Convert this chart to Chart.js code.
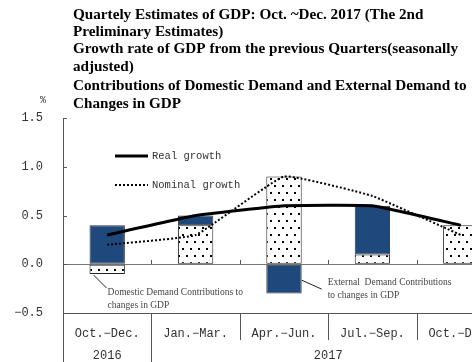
<!DOCTYPE html>
<html>
<head>
<meta charset="utf-8">
<script src="https://cdn.jsdelivr.net/npm/chart.js@4/dist/chart.umd.min.js"></script>
<style>
  html, body { margin: 0; padding: 0; background: #fff; overflow: hidden; }
  #wrap { width: 472px; height: 362px; overflow: hidden; position: relative; }
  canvas { display: block; }
</style>
</head>
<body>
<div id="wrap"><canvas id="c" width="520" height="362" style="width:520px;height:362px"></canvas></div>
<script>
// Quarters shown on the horizontal axis
const quarters = ['Oct.\u2212Dec.', 'Jan.\u2212Mar.', 'Apr.\u2212Jun.', 'Jul.\u2212Sep.', 'Oct.\u2212Dec.'];
// Calendar year groups: label, first quarter index, last quarter index
const yearLabels = ['2016', '2017'];
const yearFirst = [0, 1];
const yearLast = [0, 4];

// Contributions to quarter-on-quarter change (percentage points)
const domesticDemand = [-0.1, 0.4, 0.9, 0.1, 0.4];
const externalDemand = [0.4, 0.1, -0.3, 0.5, 0.0];

// Growth rates (%)
const realGrowth = [0.3, 0.5, 0.6, 0.6, 0.4];
const nominalGrowth = [0.2, 0.3, 0.9, 0.7, 0.3];

// Value axis range
const yMin = -0.5, yMax = 1.5, yStep = 0.5;

const titleLines = [
  'Quartely Estimates of GDP: Oct. ~Dec. 2017 (The 2nd',
  'Preliminary Estimates)',
  'Growth rate of GDP from the previous Quarters(seasonally',
  'adjusted)',
  'Contributions of Domestic Demand and External Demand to',
  'Changes in GDP'
];
const domesticNote = ['Domestic Demand Contributions to', 'changes in GDP'];
const externalNote = ['External  Demand Contributions', 'to changes in GDP'];

const MONO = '"Liberation Mono", "DejaVu Sans Mono", monospace';
const SERIF = '"Liberation Serif", "DejaVu Serif", serif';
const BLUE = '#1f497d';

// Dotted fill used for the domestic demand bars
function dotPattern() {
  const t = document.createElement('canvas');
  t.width = 16; t.height = 14;
  const g = t.getContext('2d');
  g.fillStyle = '#fff';
  g.fillRect(0, 0, 16, 14);
  g.fillStyle = '#000';
  [[2, 3], [10, 3], [6, 10], [14, 10]].forEach(([x, y]) => g.fillRect(x, y, 2, 2));
  return g.createPattern(t, 'repeat');
}

const decorations = {
  id: 'decorations',
  afterDraw(chart) {
    const ctx = chart.ctx;
    const xs = chart.scales.x, ys = chart.scales.y;
    const area = chart.chartArea;
    const H = chart.height;
    ctx.save();

    // Title block
    ctx.fillStyle = '#000';
    ctx.font = 'bold 15.2px ' + SERIF;
    ctx.textAlign = 'left';
    ctx.textBaseline = 'middle';
    const titleY = [15, 32, 49, 67, 86, 104];
    titleLines.forEach((t, i) => ctx.fillText(t, 73, titleY[i]));

    // Unit mark
    ctx.fillStyle = '#333';
    ctx.font = '10px ' + MONO;
    ctx.textAlign = 'center';
    ctx.fillText('%', 43, 100);

    // Axis line continues through the label table
    ctx.strokeStyle = '#555';
    ctx.lineWidth = 1;
    ctx.beginPath();
    ctx.moveTo(area.left + 0.5, area.bottom);
    ctx.lineTo(area.left + 0.5, H);
    ctx.stroke();

    // Inward tick marks on the value axis
    ys.ticks.forEach(t => {
      const y = Math.round(ys.getPixelForValue(t.value)) + 0.5;
      ctx.beginPath();
      ctx.moveTo(area.left, y);
      ctx.lineTo(area.left + 4, y);
      ctx.stroke();
    });

    // Category boundaries
    const n = quarters.length;
    const bounds = [];
    for (let i = 0; i < n - 1; i++) {
      bounds.push((xs.getPixelForValue(i) + xs.getPixelForValue(i + 1)) / 2);
    }
    const zeroY = Math.round(ys.getPixelForValue(0));
    bounds.forEach((bx, i) => {
      const x = Math.round(bx) + 0.5;
      // small tick above the zero line
      ctx.beginPath();
      ctx.moveTo(x, zeroY);
      ctx.lineTo(x, zeroY - 4);
      ctx.stroke();
      // separator in the label table; longer where the year changes
      const yearBreak = yearFirst.includes(i + 1);
      ctx.beginPath();
      ctx.moveTo(x, area.bottom);
      ctx.lineTo(x, yearBreak ? H : area.bottom + 27);
      ctx.stroke();
    });

    // Year labels
    ctx.fillStyle = '#333';
    ctx.font = '12px ' + MONO;
    ctx.textAlign = 'center';
    yearLabels.forEach((lab, i) => {
      const cx = (xs.getPixelForValue(yearFirst[i]) + xs.getPixelForValue(yearLast[i])) / 2;
      ctx.fillText(lab, cx, area.bottom + 43);
    });

    // Legend
    const lx0 = 115, lx1 = 148, ltx = 152;
    ctx.strokeStyle = '#000';
    ctx.lineWidth = 3;
    ctx.setLineDash([]);
    ctx.beginPath(); ctx.moveTo(lx0, 156); ctx.lineTo(lx1, 156); ctx.stroke();
    ctx.lineWidth = 2;
    ctx.setLineDash([2, 2]);
    ctx.beginPath(); ctx.moveTo(lx0, 185); ctx.lineTo(lx1, 185); ctx.stroke();
    ctx.setLineDash([]);
    ctx.fillStyle = '#333';
    ctx.font = '10.5px ' + MONO;
    ctx.textAlign = 'left';
    ctx.fillText(chart.data.datasets[0].label, ltx, 156);
    ctx.fillText(chart.data.datasets[1].label, ltx, 185);

    // Notes with leader lines
    ctx.strokeStyle = '#222';
    ctx.lineWidth = 1;
    ctx.font = '9.5px ' + SERIF;
    ctx.fillStyle = '#444';
    const dBar = chart.getDatasetMeta(2).data[0];
    const dLeft = dBar.x - dBar.width / 2;
    const dBottom = Math.max(dBar.y, dBar.base);
    ctx.beginPath();
    ctx.moveTo(dLeft + 4, dBottom + 1);
    ctx.lineTo(dLeft + 17, dBottom + 14);
    ctx.stroke();
    domesticNote.forEach((t, i) => ctx.fillText(t, dLeft + 18, dBottom + 18 + i * 13));

    const eBar = chart.getDatasetMeta(3).data[2];
    const eRight = eBar.x + eBar.width / 2;
    const eMid = (eBar.y + eBar.base) / 2;
    ctx.beginPath();
    ctx.moveTo(eRight, eMid + 1);
    ctx.lineTo(eRight + 20, eMid + 10);
    ctx.stroke();
    externalNote.forEach((t, i) => ctx.fillText(t, eRight + 26, eMid + 3 + i * 13));

    ctx.restore();
  }
};

const pattern = dotPattern();

new Chart(document.getElementById('c'), {
  data: {
    labels: quarters,
    datasets: [
      {
        type: 'line', label: 'Real growth', data: realGrowth, stack: 'real', order: 0,
        borderColor: '#000', borderWidth: 3, pointRadius: 0, tension: 0.1, fill: false
      },
      {
        type: 'line', label: 'Nominal growth', data: nominalGrowth, stack: 'nominal', order: 0,
        borderColor: '#000', borderWidth: 2, borderDash: [2, 2], pointRadius: 0, tension: 0.1, fill: false
      },
      {
        type: 'bar', label: 'Domestic Demand', data: domesticDemand, stack: 'gdp', order: 1,
        backgroundColor: pattern, borderColor: '#222', borderWidth: 1, borderSkipped: false,
        categoryPercentage: 1, barPercentage: 0.4
      },
      {
        type: 'bar', label: 'External Demand', data: externalDemand, stack: 'gdp', order: 1,
        backgroundColor: BLUE, borderColor: '#333', borderWidth: 1, borderSkipped: false,
        categoryPercentage: 1, barPercentage: 0.4
      }
    ]
  },
  options: {
    responsive: false,
    animation: false,
    devicePixelRatio: 1,
    layout: { padding: { top: 118, right: 15, left: 0, bottom: 0 } },
    plugins: { legend: { display: false }, tooltip: { enabled: false }, title: { display: false } },
    scales: {
      x: {
        type: 'category',
        stacked: true,
        offset: true,
        grid: { display: false },
        border: { display: true, color: '#555', width: 1 },
        ticks: {
          color: '#333', font: { family: MONO, size: 12 }, padding: 6,
          maxRotation: 0, autoSkip: false
        },
        afterFit(s) { s.height = 49; }
      },
      y: {
        type: 'linear',
        stacked: true,
        min: yMin, max: yMax,
        grid: {
          drawTicks: false,
          color: c => (c.tick && c.tick.value === 0 ? '#777' : 'rgba(0,0,0,0)'),
          lineWidth: 1
        },
        border: { display: true, color: '#555', width: 1 },
        ticks: {
          stepSize: yStep, padding: 20, color: '#333',
          font: { family: MONO, size: 12 },
          callback: v => v.toFixed(1).replace('-', '\u2212')
        },
        afterFit(s) { s.width = 63; }
      }
    }
  },
  plugins: [decorations]
});
</script>
</body>
</html>
